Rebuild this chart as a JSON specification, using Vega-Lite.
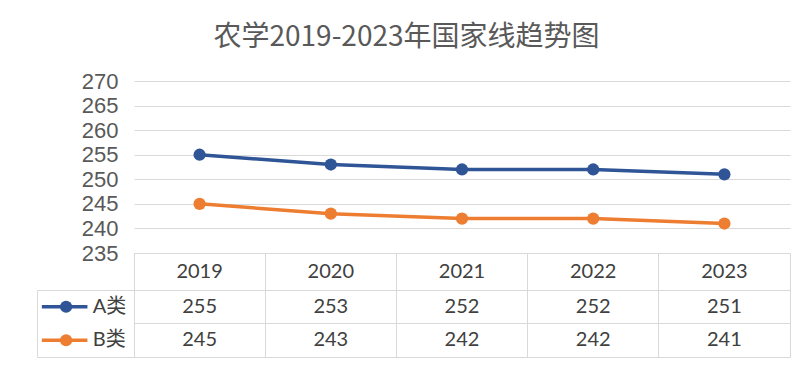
{
  "$schema": "https://vega.github.io/schema/vega-lite/v6.json",
  "background": "white",
  "padding": {"left": 36, "top": 24, "right": 5, "bottom": 5},
  "title": {"text": "农学2019-2023年国家线趋势图", "font": "Noto Sans CJK SC", "fontSize": 28, "fontWeight": "normal", "color": "#595959", "anchor": "middle", "offset": 18, "dx": -7},
  "config": {"view": {"stroke": null}, "font": "Lato, Noto Sans CJK SC"},
  "data": {"values": [
    {"year": 2019, "series": "A类", "value": 255},
    {"year": 2020, "series": "A类", "value": 253},
    {"year": 2021, "series": "A类", "value": 252},
    {"year": 2022, "series": "A类", "value": 252},
    {"year": 2023, "series": "A类", "value": 251},
    {"year": 2019, "series": "B类", "value": 245},
    {"year": 2020, "series": "B类", "value": 243},
    {"year": 2021, "series": "B类", "value": 242},
    {"year": 2022, "series": "B类", "value": 242},
    {"year": 2023, "series": "B类", "value": 241}
  ]},
  "columns": 2,
  "bounds": "flush",
  "spacing": 0,
  "concat": [
    {"width": 97, "height": 172, "data": {"values": [{}]}, "mark": "text", "encoding": {"text": {"value": ""}}},
    {
      "width": 656,
      "height": 172,
      "encoding": {
        "x": {"field": "year", "type": "ordinal", "scale": {"type": "point", "padding": 0.5}, "axis": null},
        "y": {"field": "value", "type": "quantitative", "scale": {"domain": [235, 270], "nice": false, "zero": false},
          "axis": {"values": [235, 240, 245, 250, 255, 260, 265, 270], "title": null, "domain": false, "ticks": false, "labelFontSize": 22, "labelColor": "#595959", "labelPadding": 16, "gridColor": "#d9d9d9", "labelFont": "Liberation Sans"}},
        "color": {"field": "series", "type": "nominal", "scale": {"domain": ["A类", "B类"], "range": ["#2F5597", "#ED7D31"]}, "legend": null}
      },
      "layer": [
        {"mark": {"type": "line", "strokeWidth": 3.5}},
        {"mark": {"type": "point", "filled": true, "size": 150, "opacity": 1}}
      ]
    },
    {"width": 97, "height": 37, "data": {"values": [{}]}, "mark": "text", "encoding": {"text": {"value": ""}}},
    {
      "width": 656,
      "height": 37,
      "view": {"stroke": "#d9d9d9"},
      "transform": [{"filter": "datum.series === 'A类'"}],
      "mark": {"type": "text", "fontSize": 20, "color": "#404040", "font": "Lato"},
      "encoding": {
        "x": {"field": "year", "type": "ordinal", "scale": {"type": "band", "paddingInner": 0, "paddingOuter": 0},
          "axis": {"title": null, "labels": false, "ticks": false, "domain": false, "grid": true, "gridColor": "#d9d9d9", "bandPosition": 0}},
        "text": {"field": "year", "type": "ordinal"}
      }
    },
    {
      "width": 97,
      "height": 67,
      "view": {"stroke": "#d9d9d9"},
      "transform": [{"filter": "datum.year === 2019"}],
      "encoding": {
        "y": {"field": "series", "type": "nominal", "scale": {"type": "band", "paddingInner": 0, "paddingOuter": 0}, "axis": null},
        "color": {"field": "series", "type": "nominal", "scale": {"domain": ["A类", "B类"], "range": ["#2F5597", "#ED7D31"]}, "legend": null}
      },
      "layer": [
        {"mark": {"type": "rule", "strokeWidth": 3.5}, "encoding": {"x": {"datum": 0.05, "type": "quantitative", "scale": {"domain": [0, 1]}, "axis": null}, "x2": {"datum": 0.52}}},
        {"mark": {"type": "point", "filled": true, "size": 150, "opacity": 1}, "encoding": {"x": {"datum": 0.3, "type": "quantitative", "scale": {"domain": [0, 1]}, "axis": null}}},
        {"mark": {"type": "text", "fontSize": 20, "align": "left", "color": "#404040", "font": "Lato, Noto Sans CJK SC"}, "encoding": {"x": {"datum": 0.575, "type": "quantitative", "scale": {"domain": [0, 1]}, "axis": null}, "text": {"field": "series"}, "color": {"value": "#404040"}}}
      ]
    },
    {
      "width": 656,
      "height": 67,
      "view": {"stroke": "#d9d9d9"},
      "mark": {"type": "text", "fontSize": 20, "color": "#404040", "font": "Lato"},
      "encoding": {
        "x": {"field": "year", "type": "ordinal", "scale": {"type": "band", "paddingInner": 0, "paddingOuter": 0},
          "axis": {"title": null, "labels": false, "ticks": false, "domain": false, "grid": true, "gridColor": "#d9d9d9", "bandPosition": 0}},
        "y": {"field": "series", "type": "nominal", "scale": {"type": "band", "paddingInner": 0, "paddingOuter": 0},
          "axis": {"title": null, "labels": false, "ticks": false, "domain": false, "grid": true, "gridColor": "#d9d9d9", "bandPosition": 0}},
        "text": {"field": "value", "type": "quantitative"}
      }
    }
  ]
}
